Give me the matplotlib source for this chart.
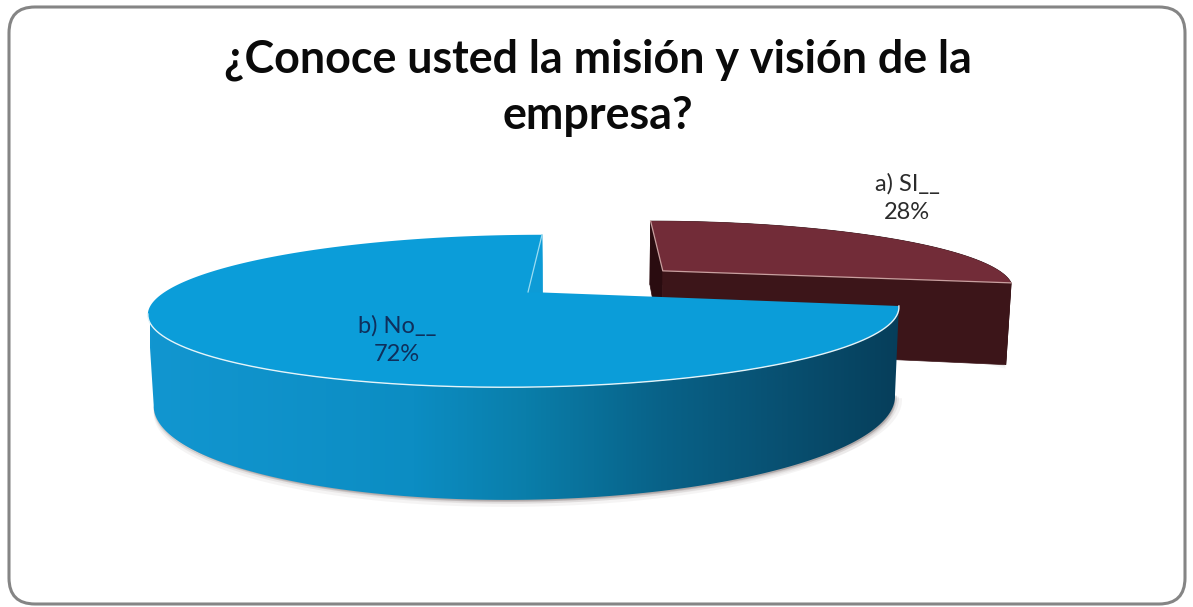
import numpy as np
import matplotlib
matplotlib.use('Agg')
import matplotlib.pyplot as plt
from matplotlib.colors import LinearSegmentedColormap
from matplotlib.patches import FancyBboxPatch, PathPatch, Polygon
from matplotlib.path import Path

title = '¿Conoce usted la misión y visión de la\nempresa?'
labels = ['a) SI__', 'b) No__']
shares = [28, 72]

plt.rcParams['font.family'] = ['Lato', 'DejaVu Sans']

# camera used for the 3d pie, in pixels
vx, vy = 598, 6
sx_scale, sy_scale = 1453, 1144
depth = 4.16
height = 338
shrink = 0.013
explode = 0.25
# clockwise angle where the disk outline turns from front to back on the left
left_edge = 254


def project(x, y, z=0):
    d = depth + y
    sx = vx + sx_scale * x / d * (1 - shrink * z)
    sy = vy + (sy_scale + height * z) / d
    return np.column_stack([sx, sy])


def slice_geom(start, sweep):
    # angles run clockwise from the back of the disk
    mid = np.radians(start + sweep / 2)
    cx, cy = explode * np.sin(mid), explode * np.cos(mid)
    t = np.linspace(start, start + sweep, 300)
    r = np.radians(t)
    return cx, cy, cx + np.sin(r), cy + np.cos(r), t


def face(ax, x0, y0, x1, y1, color, zorder):
    pts = np.vstack([project(np.array([x0, x1]), np.array([y0, y1])),
                     project(np.array([x1, x0]), np.array([y1, y0]), 1)])
    ax.add_patch(Polygon(pts, closed=True, fc=color, ec=color, lw=0.5, zorder=zorder))


fig = plt.figure(figsize=(11.93, 6.07), dpi=100)
ax = fig.add_axes([0, 0, 1, 1])
ax.axis('off')

frame = FancyBboxPatch((9, 7), 1176, 597, boxstyle='round,pad=0,rounding_size=26',
                       fc='white', ec='#858585', lw=2.2, zorder=1)
ax.add_patch(frame)

sweeps = [360 * s / sum(shares) for s in shares]

# maroon slice
cx, cy, rim_x, rim_y, t = slice_geom(0, sweeps[0])
top_pts = project(rim_x, rim_y)
low_pts = project(rim_x, rim_y, 1)
for grow, alpha in [(4, 0.06), (2, 0.10)]:
    ax.add_patch(Polygon(low_pts + [0, grow], closed=True, fc='#555555', ec='none', alpha=alpha, zorder=2))
ax.add_patch(Polygon(np.vstack([top_pts, low_pts[::-1]]), closed=True,
                     fc='#2f0e12', ec='#2f0e12', lw=0.5, zorder=3))
face(ax, cx, cy, rim_x[0], rim_y[0], '#2a0c10', 4)
face(ax, cx, cy, rim_x[-1], rim_y[-1], '#3c1519', 4)
apex = project(np.array([cx]), np.array([cy]))
ax.add_patch(Polygon(np.vstack([apex, top_pts]), closed=True, fc='#722c38', ec='none', zorder=5))
ax.plot(*np.vstack([top_pts[0], apex, top_pts[-1]]).T, color='#c9a0a0', lw=0.9, zorder=6)

# blue slice, the wall stops at the left edge so its outline stays simple
cx, cy, rim_x, rim_y, t = slice_geom(sweeps[0], sweeps[1])
front = t <= left_edge
top_pts = project(rim_x, rim_y)
low_pts = project(rim_x[front], rim_y[front], 1)
for grow, alpha in [(7, 0.05), (4, 0.08), (2, 0.14)]:
    ax.add_patch(Polygon(low_pts + [0, grow], closed=True, fc='#4a3a3a', ec='none', alpha=alpha, zorder=7))
    ax.add_patch(Polygon(low_pts + [grow, grow / 2], closed=True, fc='#4a3a3a', ec='none', alpha=alpha, zorder=7))

wall = np.vstack([top_pts[front], low_pts[::-1]])
wall_patch = PathPatch(Path(np.vstack([wall, wall[0]]), closed=True),
                       fc='none', ec='none', transform=ax.transData)
ax.add_patch(wall_patch)
wall_cmap = LinearSegmentedColormap.from_list('wall', [
    (0.0, '#1296d0'), (0.35, '#0c8dc3'), (0.5, '#0a7eaa'), (0.68, '#086288'),
    (0.85, '#084f70'), (1.0, '#063e5a')])
im = ax.imshow(np.linspace(0, 1, 512)[None, :], cmap=wall_cmap, aspect='auto',
               extent=(150, 902, 510, 230), zorder=8)
im.set_clip_path(wall_patch)

face(ax, cx, cy, rim_x[-1], rim_y[-1], '#0d9bd6', 9)
apex = project(np.array([cx]), np.array([cy]))
ax.add_patch(Polygon(np.vstack([apex, top_pts]), closed=True, fc='#0b9dd9', ec='none', zorder=10))
ax.plot(*np.vstack([top_pts[-1], apex]).T, color='#9adcf2', lw=0.9, zorder=11)

# highlight along the front rim, as far as the left edge of the disk
ax.plot(top_pts[front, 0], top_pts[front, 1], color='#e4f4f9', lw=1.0, zorder=11)

ax.text(598, 88, title, ha='center', va='center', fontsize=32.3, fontweight='bold',
        color='#0a0a0a', linespacing=1.42, zorder=12)
ax.text(907, 198, f'{labels[0]}\n{shares[0]}%', ha='center', va='center', fontsize=17,
        color='#2b2b2b', linespacing=1.47, zorder=12)
ax.text(397, 340, f'{labels[1]}\n{shares[1]}%', ha='center', va='center', fontsize=17,
        color='#0f2f5c', linespacing=1.47, zorder=12)

ax.set_xlim(0, 1193)
ax.set_ylim(607, 0)
fig.savefig('out.png', dpi=100)
